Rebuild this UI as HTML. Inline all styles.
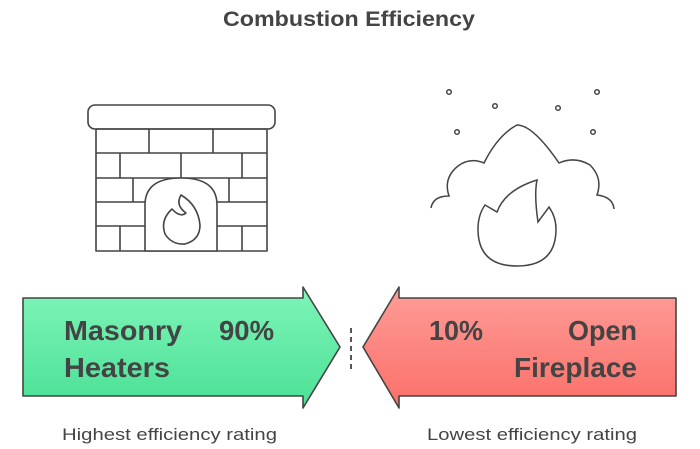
<!DOCTYPE html>
<html><head><style>
body{margin:0;background:#fff}
svg{display:block}
text{font-family:"Liberation Sans",sans-serif;fill:#444}
</style></head><body>
<svg width="700" height="449" viewBox="0 0 700 449" xmlns="http://www.w3.org/2000/svg">
<defs>
<linearGradient id="g" x1="0" y1="0" x2="0" y2="1"><stop offset="0" stop-color="#7ef5b8"/><stop offset="1" stop-color="#4be096"/></linearGradient>
<linearGradient id="r" x1="0" y1="0" x2="0" y2="1"><stop offset="0" stop-color="#fe9d98"/><stop offset="1" stop-color="#fb6f69"/></linearGradient>
</defs>
<text x="223" y="26" font-size="21" font-weight="bold" textLength="252" lengthAdjust="spacingAndGlyphs">Combustion Efficiency</text>
<g fill="none" stroke="#444" stroke-width="1.6" stroke-linejoin="round">
<rect x="88" y="105" width="187" height="24" rx="7" fill="#fff"/>
<rect x="96" y="129" width="171" height="122"/>
<path d="M96 153H267M96 178H267M96 202H145M217 202H267M96 226H145M217 226H267"/>
<path d="M149 129V153M213 129V153M120 153V178M181 153V178M242 153V178M133 178V202M229 178V202M120 226V251M242 226V251"/>
<path d="M145 251V205Q145 178 181 178Q217 178 217 205V251Z" fill="#fff"/>
<path d="M181 195Q175 205 186 213Q180 218 172 209Q160 220 165 234Q172 245 185 244Q200 240 200 225Q198 205 181 195Z"/>
</g>
<g fill="none" stroke="#444" stroke-width="1.5">
<circle cx="449" cy="92" r="2.3"/><circle cx="495" cy="106" r="2.3"/><circle cx="558" cy="108" r="2.3"/><circle cx="597" cy="92" r="2.3"/><circle cx="457" cy="132" r="2.3"/><circle cx="593" cy="132" r="2.3"/>
<path d="M431 208Q433 196 449 196Q443 178 458 166Q470 157 484 163Q498 135 517 125Q533 125 559 163Q575 156 590 165Q603 178 597 195Q613 197 614 209"/>
<path d="M485 205L497 212Q505 190 537 180Q534 195 538 222L549 207Q556 217 556 229Q556 266 517 266Q478 266 478 229Q478 215 485 205Z"/>
</g>
<path d="M23 298H303V287L340 347L303 408V396H23Z" fill="url(#g)" stroke="#444" stroke-width="1.6" stroke-linejoin="round"/>
<path d="M676 298H399V287L363 347L399 408V396H676Z" fill="url(#r)" stroke="#444" stroke-width="1.6" stroke-linejoin="round"/>
<path d="M351 328V372" stroke="#444" stroke-width="1.8" stroke-dasharray="5 4"/>
<g font-size="28" font-weight="bold">
<text x="64" y="340" textLength="118" lengthAdjust="spacingAndGlyphs">Masonry</text>
<text x="64" y="377" textLength="106" lengthAdjust="spacingAndGlyphs">Heaters</text>
<text x="219" y="340" textLength="55" lengthAdjust="spacingAndGlyphs">90%</text>
<text x="429" y="340" textLength="54" lengthAdjust="spacingAndGlyphs">10%</text>
<text x="568" y="340" textLength="69" lengthAdjust="spacingAndGlyphs">Open</text>
<text x="514" y="377" textLength="123" lengthAdjust="spacingAndGlyphs">Fireplace</text>
</g>
<text x="62" y="440" font-size="17" textLength="215" lengthAdjust="spacingAndGlyphs">Highest efficiency rating</text>
<text x="427" y="440" font-size="17" textLength="210" lengthAdjust="spacingAndGlyphs">Lowest efficiency rating</text>
</svg>
</body></html>
